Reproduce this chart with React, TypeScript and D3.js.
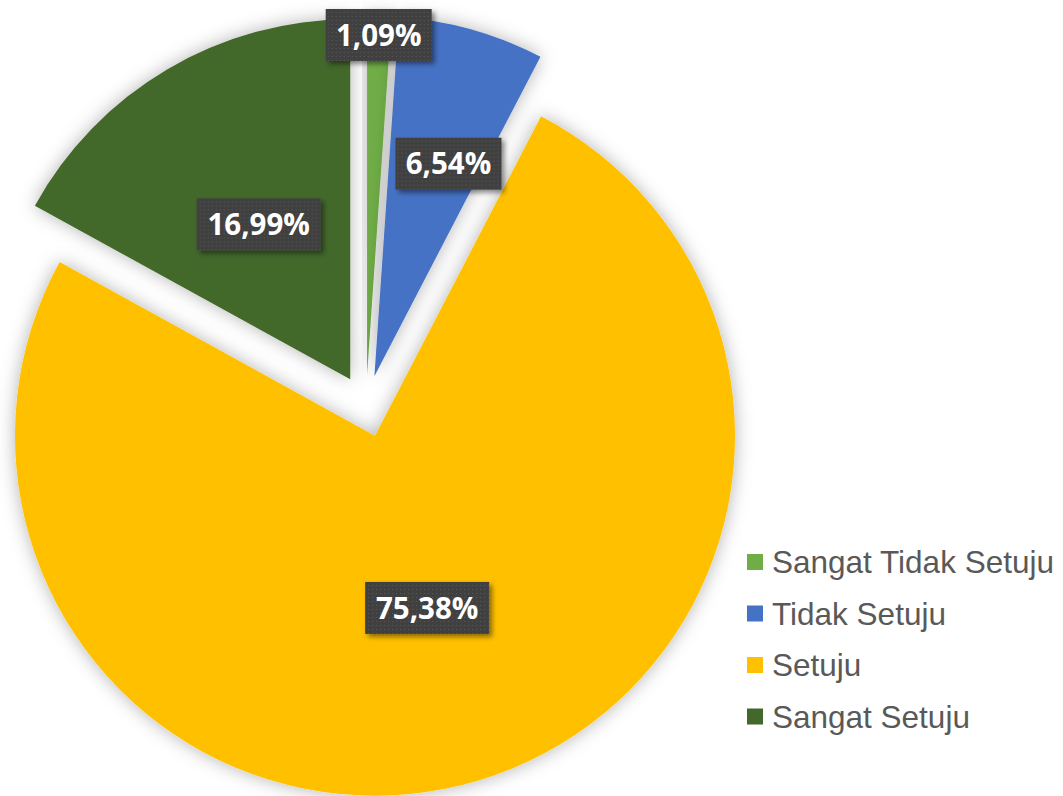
import * as React from "react";
import * as d3 from "d3";

const categories = ["Sangat Tidak Setuju", "Tidak Setuju", "Setuju", "Sangat Setuju"];
const values = [1.09, 6.54, 75.38, 16.99];
const labels = ["1,09%", "6,54%", "75,38%", "16,99%"];
const colors = ["#70AD47", "#4472C4", "#FFC000", "#43682B"];
// best-fit label placement: distance as a fraction of the radius, and
// position across the slice's angle (0.5 = middle)
const labelFractions = [0.945, 0.625, 0.5, 0.5];
const labelAngleRatios = [0.5, 0.65, 0.5, 0.5];

const W = 1063;
const H = 796;

const App: React.FunctionComponent = () => {
  const ref = React.useRef<SVGSVGElement>(null);

  React.useEffect(() => {
    const svg = d3.select(ref.current);
    svg.selectAll("*").remove();

    const cx = 366;
    const cy = 406;
    const radius = 360;
    const explode = 31;

    const defs = svg.append("defs");
    const glow = defs
      .append("filter")
      .attr("id", "glow")
      .attr("x", "-20%")
      .attr("y", "-20%")
      .attr("width", "140%")
      .attr("height", "140%");
    glow.append("feGaussianBlur").attr("in", "SourceAlpha").attr("stdDeviation", 9).attr("result", "b");
    glow.append("feFlood").attr("flood-color", "#000").attr("flood-opacity", 0.3);
    glow.append("feComposite").attr("in2", "b").attr("operator", "in").attr("result", "s");
    const m1 = glow.append("feMerge");
    m1.append("feMergeNode").attr("in", "s");
    m1.append("feMergeNode").attr("in", "SourceGraphic");

    const boxShadow = defs
      .append("filter")
      .attr("id", "boxShadow")
      .attr("x", "-20%")
      .attr("y", "-30%")
      .attr("width", "150%")
      .attr("height", "170%");
    boxShadow.append("feGaussianBlur").attr("in", "SourceAlpha").attr("stdDeviation", 2.5).attr("result", "b");
    boxShadow.append("feOffset").attr("dx", 3).attr("dy", 3).attr("result", "o");
    boxShadow.append("feFlood").attr("flood-color", "#000").attr("flood-opacity", 0.45);
    boxShadow.append("feComposite").attr("in2", "o").attr("operator", "in").attr("result", "s");
    const m2 = boxShadow.append("feMerge");
    m2.append("feMergeNode").attr("in", "s");
    m2.append("feMergeNode").attr("in", "SourceGraphic");

    const dots = defs
      .append("pattern")
      .attr("id", "dots")
      .attr("width", 4)
      .attr("height", 4)
      .attr("patternUnits", "userSpaceOnUse");
    dots.append("rect").attr("width", 4).attr("height", 4).attr("fill", "#404040");
    dots.append("rect").attr("x", 1).attr("y", 1).attr("width", 1).attr("height", 1).attr("fill", "#5a5a5a");

    svg.append("rect").attr("width", W).attr("height", H).attr("fill", "#fff");

    const pie = d3
      .pie<number>()
      .sort(null)
      .value(d => d)
      .startAngle(0)
      .endAngle(2 * Math.PI);
    const arcs = pie(values);
    const arc = d3.arc<d3.PieArcDatum<number>>().innerRadius(0).outerRadius(radius);

    const offsetOf = (d: d3.PieArcDatum<number>) => {
      const mid = (d.startAngle + d.endAngle) / 2;
      return [Math.sin(mid) * explode, -Math.cos(mid) * explode];
    };

    const g = svg.append("g").attr("transform", `translate(${cx},${cy})`);
    g.selectAll("path.slice")
      .data(arcs)
      .enter()
      .append("path")
      .attr("class", "slice")
      .attr("d", arc)
      .attr("fill", (d, i) => colors[i])
      .attr("filter", "url(#glow)")
      .attr("transform", d => {
        const [dx, dy] = offsetOf(d);
        return `translate(${dx},${dy})`;
      });

    const lbl = g
      .selectAll("g.lbl")
      .data(arcs)
      .enter()
      .append("g")
      .attr("class", "lbl")
      .attr("transform", (d, i) => {
        const [dx, dy] = offsetOf(d);
        const a = d.startAngle + (d.endAngle - d.startAngle) * labelAngleRatios[i];
        const r = radius * labelFractions[i];
        return `translate(${dx + Math.sin(a) * r},${dy - Math.cos(a) * r})`;
      });
    lbl
      .append("rect")
      .attr("x", (d, i) => (i === 2 || i === 3 ? -62 : -53))
      .attr("y", -26)
      .attr("width", (d, i) => (i === 2 || i === 3 ? 124 : 106))
      .attr("height", 52)
      .attr("fill", "url(#dots)")
      .attr("filter", "url(#boxShadow)");
    lbl
      .append("text")
      .attr("text-anchor", "middle")
      .attr("dy", "0.36em")
      .attr("fill", "#fff")
      .style("font-family", "'Open Sans', sans-serif")
      .style("font-weight", 700)
      .style("font-size", "29.5px")
      .text((d, i) => labels[i]);

    const legend = svg.append("g").attr("transform", "translate(747,562)");
    const y = d3.scaleBand<string>().domain(categories).range([0, 206]).align(0);
    const item = legend
      .selectAll("g")
      .data(categories)
      .enter()
      .append("g")
      .attr("transform", d => `translate(0,${y(d) as number})`);
    item
      .append("rect")
      .attr("x", 0)
      .attr("y", -8)
      .attr("width", 16)
      .attr("height", 16)
      .attr("fill", (d, i) => colors[i]);
    item
      .append("text")
      .attr("x", 25)
      .attr("y", 11)
      .attr("fill", "#595959")
      .style("font-family", "'Liberation Sans', Arial, sans-serif")
      .style("font-size", "31.5px")
      .text(d => d);
  }, []);

  return (
    <div style={{ position: "absolute", left: 0, top: 0 }}>
      <svg ref={ref} width={W} height={H} style={{ display: "block" }} />
    </div>
  );
};

export default App;
